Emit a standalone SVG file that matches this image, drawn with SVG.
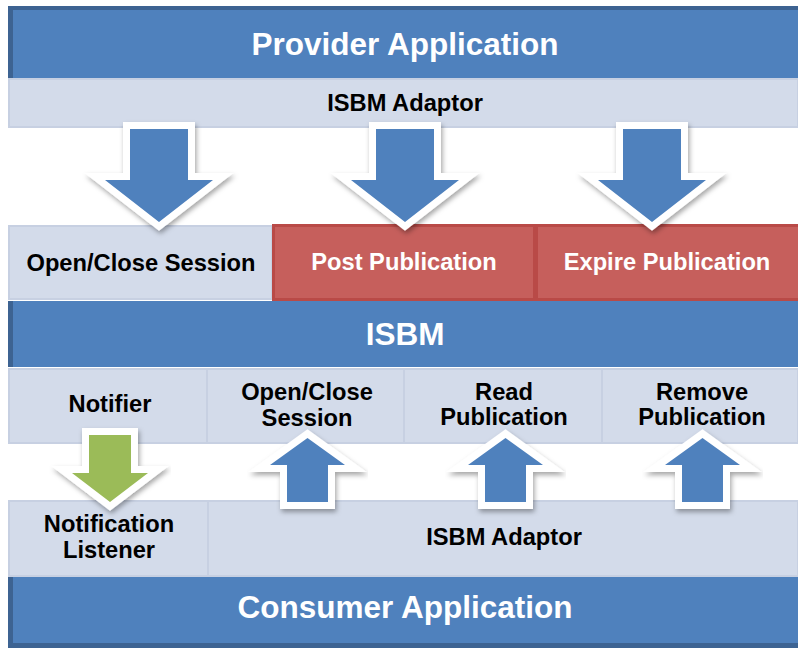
<svg xmlns="http://www.w3.org/2000/svg" width="798" height="648" viewBox="0 0 798 648">
<style>
.bar{fill:#4f81bd}
.edge{fill:#3d6392}
.lt{fill:#d3dbea;stroke:#c7d0e2;stroke-width:2}
.red{fill:#c65f5c;stroke:#b94a47;stroke-width:3}
.big{font-family:"Liberation Sans",Arial,sans-serif;font-weight:bold;font-size:31.5px;fill:#fff;text-anchor:middle}
.lbl{font-family:"Liberation Sans",Arial,sans-serif;font-weight:bold;font-size:23.7px;fill:#000;text-anchor:middle}
.wl{fill:#fff}
.arr{stroke:#fff;stroke-width:14;stroke-linejoin:miter;stroke-miterlimit:4;paint-order:stroke;filter:url(#sh)}
.blue{fill:#4f81bd}
.green{fill:#9bbb59}
</style>
<defs>
<filter id="sh" x="-30%" y="-30%" width="160%" height="160%">
<feDropShadow dx="1.5" dy="3" stdDeviation="2.5" flood-color="#000" flood-opacity="0.35"/>
</filter>
</defs>
<rect width="798" height="648" fill="#fff"/>
<g id="provider-application">
<rect class="bar" x="8" y="6" width="790" height="72"/>
<rect class="edge" x="8" y="6" width="790" height="4"/>
<rect class="edge" x="8" y="6" width="5" height="72"/>
<text class="big" x="405" y="55">Provider Application</text>
</g>
<g id="provider-adaptor">
<rect class="lt" x="9" y="79" width="789" height="48"/>
<text class="lbl" x="405" y="111">ISBM Adaptor</text>
</g>
<g id="open-close-session-top">
<rect class="lt" x="9" y="226" width="263" height="73"/>
<text class="lbl" x="141" y="271">Open/Close Session</text>
</g>
<g id="post-publication">
<rect class="red" x="273.5" y="225.5" width="261" height="74"/>
<text class="lbl" x="404" y="270" style="fill:#fff">Post Publication</text>
</g>
<g id="expire-publication">
<rect class="red" x="536.5" y="225.5" width="263" height="74"/>
<text class="lbl" x="667" y="270" style="fill:#fff">Expire Publication</text>
</g>
<g id="isbm">
<rect class="bar" x="8" y="301" width="790" height="66"/>
<rect class="edge" x="8" y="301" width="5" height="66"/>
<text class="big" x="405" y="345">ISBM</text>
</g>
<g id="notifier">
<rect class="lt" x="9" y="369" width="198" height="74"/>
<text class="lbl" x="110" y="412">Notifier</text>
</g>
<g id="open-close-session-bottom">
<rect class="lt" x="207" y="369" width="197" height="74"/>
<text class="lbl" x="307" y="400">Open/Close</text>
<text class="lbl" x="307" y="426">Session</text>
</g>
<g id="read-publication">
<rect class="lt" x="404" y="369" width="198" height="74"/>
<text class="lbl" x="504" y="400">Read</text>
<text class="lbl" x="504" y="425">Publication</text>
</g>
<g id="remove-publication">
<rect class="lt" x="602" y="369" width="196" height="74"/>
<text class="lbl" x="702" y="400">Remove</text>
<text class="lbl" x="702" y="425">Publication</text>
</g>
<g id="notification-listener">
<rect class="lt" x="9" y="501" width="199" height="75"/>
<text class="lbl" x="109" y="532">Notification</text>
<text class="lbl" x="109" y="558">Listener</text>
</g>
<g id="consumer-adaptor">
<rect class="lt" x="208" y="501" width="590" height="75"/>
<text class="lbl" x="504" y="545">ISBM Adaptor</text>
</g>
<g id="consumer-application">
<rect class="bar" x="8" y="577" width="790" height="71"/>
<rect class="edge" x="8" y="643" width="790" height="5"/>
<rect class="edge" x="8" y="577" width="5" height="71"/>
<text class="big" x="405" y="618">Consumer Application</text>
</g>
<g id="connectors">
<polygon class="arr blue" points="130,129 188,129 188,180 213,180 159,222 105,180 130,180"/>
<polygon class="arr blue" points="376,129 434,129 434,180 459,180 405,222 351,180 376,180"/>
<polygon class="arr blue" points="623,129 681,129 681,180 706,180 652,222 598,180 623,180"/>
<polygon class="arr green" points="89,435 131,435 131,473 148,473 110,502 72,473 89,473"/>
<polygon class="arr blue" points="287,502 328,502 328,465 345,465 307.5,438 270,465 287,465"/>
<polygon class="arr blue" points="485,502 526,502 526,465 543,465 505.5,438 468,465 485,465"/>
<polygon class="arr blue" points="682,502 723,502 723,465 740,465 702.5,438 665,465 682,465"/>
</g>
</svg>
